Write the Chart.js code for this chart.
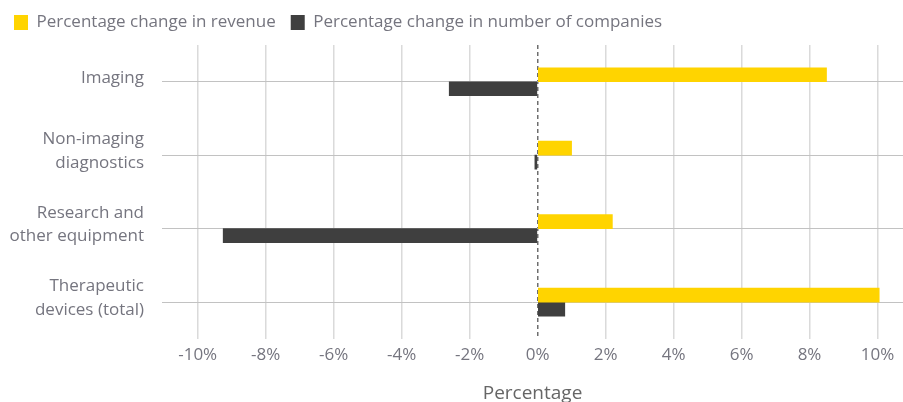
<!DOCTYPE html>
<html>
<head>
<meta charset="utf-8">
<script src="https://cdn.jsdelivr.net/npm/chart.js@4"></script>
<style>
  html, body { margin: 0; padding: 0; background: #fff; }
  #wrap { width: 903px; height: 402px; }
</style>
</head>
<body>
<div id="wrap"><canvas id="chart"></canvas></div>
<script>
// ─── Data ─────────────────────────────────────────────
const categories = [
    'Imaging',
    ['Non-imaging', 'diagnostics'],
    ['Research and', 'other equipment'],
    ['Therapeutic', 'devices (total)'],
];
const revenueChange   = [8.5, 1.0, 2.2, 10.05];
const companiesChange = [-2.6, -0.08, -9.25, 0.8];
const xTickValues     = [-10, -8, -6, -4, -2, 0, 2, 4, 6, 8, 10];

const FONT   = "'Open Sans', sans-serif";
const GREY   = '#75757f';
const YELLOW = '#ffd400';
const DARK   = '#3f3f3f';

const isZero = ctx => ctx.tick && ctx.tick.value === 0;

// Extra space between the legend and the plot area
const legendGap = {
    id: 'legendGap',
    beforeInit(chart) {
        const fit = chart.legend.fit;
        chart.legend.fit = function () {
            fit.call(this);
            this.height += 4;
        };
    },
};

new Chart(document.getElementById('chart'), {
    type: 'bar',
    data: {
        labels: categories,
        datasets: [
            { label: 'Percentage change in revenue', data: revenueChange, backgroundColor: YELLOW },
            { label: 'Percentage change in number of companies', data: companiesChange, backgroundColor: DARK },
        ],
    },
    plugins: [legendGap],
    options: {
        indexAxis: 'y',
        responsive: true,
        maintainAspectRatio: false,
        animation: false,
        layout: { padding: { left: -1, right: 0, top: -1, bottom: -3 } },
        datasets: { bar: { barThickness: 14 } },
        plugins: {
            legend: {
                position: 'top',
                align: 'start',
                labels: {
                    boxWidth: 14,
                    boxHeight: 15,
                    padding: 15,
                    color: GREY,
                    font: { family: FONT, size: 17 },
                },
            },
            tooltip: { enabled: false },
        },
        scales: {
            x: {
                type: 'linear',
                min: -11.05,
                max: 10.75,
                afterBuildTicks: s => { s.ticks = xTickValues.map(v => ({ value: v })); },
                grid: {
                    color: ctx => isZero(ctx) ? '#6e6e6e' : '#dadada',
                    lineWidth: 1.5,
                    drawTicks: false,
                },
                border: { display: false, dash: ctx => isZero(ctx) ? [4, 3] : [] },
                ticks: {
                    color: GREY,
                    padding: 6,
                    font: { family: FONT, size: 17 },
                    callback: v => v + '%',
                },
                title: {
                    display: true,
                    text: 'Percentage',
                    color: '#666',
                    font: { family: FONT, size: 19 },
                    padding: { top: 11, bottom: 0 },
                },
            },
            y: {
                grid: { offset: false, color: '#c2c2c2', lineWidth: 1, drawTicks: false },
                border: { display: false },
                afterFit: s => { s.width = 163; },
                ticks: {
                    color: GREY,
                    padding: 18,
                    labelOffset: -4,
                    font: { family: FONT, size: 17, lineHeight: 1.4 },
                },
            },
        },
    },
});
</script>
</body>
</html>
